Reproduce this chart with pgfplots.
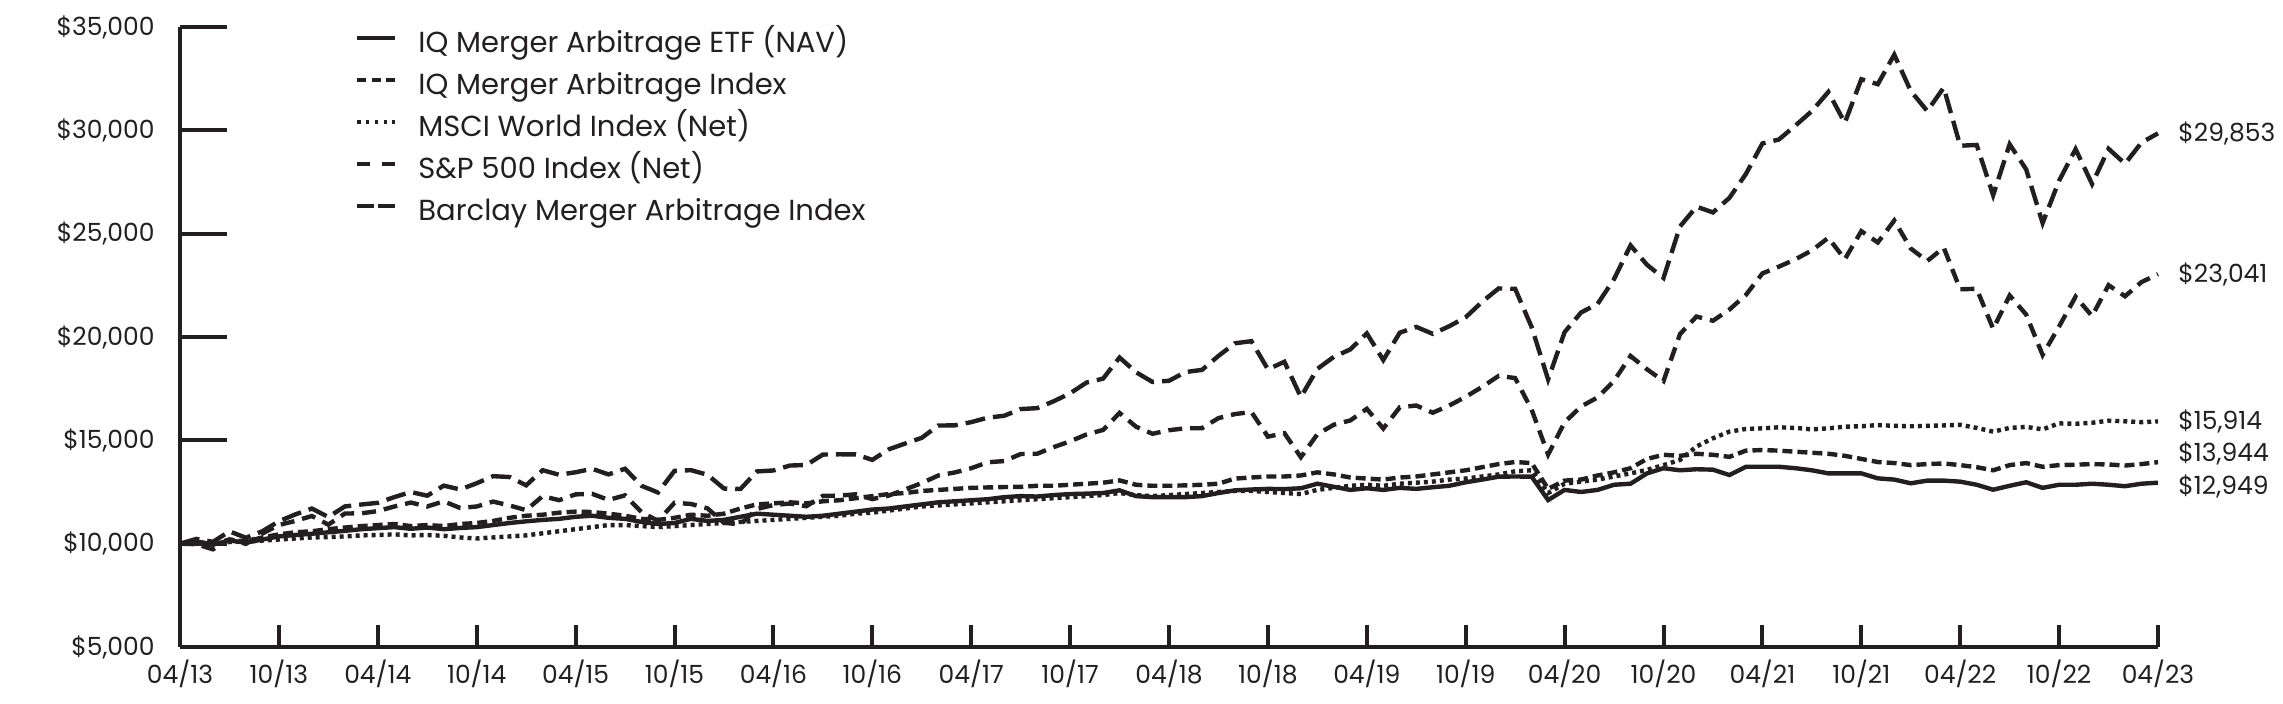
\documentclass[border=0pt]{standalone}
\usepackage{fontspec}
\setmainfont{Poppins}
\usepackage{pgfplots}
\usepackage{pgfplotstable}
\pgfplotsset{compat=1.18}
\definecolor{ink}{RGB}{35,31,32}
\newcommand{\lbl}{\fontsize{12.5}{15}\selectfont}
\newcommand{\lgd}{\fontsize{14.5}{17}\selectfont}

\pgfplotstableread{
m etf iq msci sp bar
0 10000 10000 10000 10000 10000
1 10080 10100 9972 10229 10050
2 9950 9980 9725 10087 10000
3 10150 10200 10203 10596 10080
4 10050 10100 9990 10283 10100
5 10200 10300 10492 10602 10150
6 10350 10450 10903 11083 10200
7 10420 10550 11101 11416 10250
8 10480 10600 11337 11699 10300
9 10550 10700 10919 11290 10320
10 10620 10780 11456 11800 10350
11 10700 10850 11469 11894 10400
12 10750 10900 11574 11975 10420
13 10800 10950 11797 12251 10450
14 10720 10850 11988 12498 10400
15 10780 10900 11798 12321 10420
16 10700 10850 12048 12807 10380
17 10760 10950 11725 12622 10300
18 10800 11000 11798 12924 10250
19 10900 11100 12036 13265 10300
20 11000 11250 11845 13225 10350
21 11080 11350 11623 12823 10400
22 11150 11400 12298 13554 10500
23 11200 11500 12104 13333 10600
24 11300 11550 12384 13454 10700
25 11350 11530 12412 13621 10800
26 11250 11450 12116 13351 10900
27 11200 11350 12336 13625 10900
28 11050 11200 11524 12798 10850
29 10950 11150 11100 12475 10800
30 11000 11250 11979 13522 10850
31 11200 11400 11920 13555 10900
32 11100 11350 11708 13335 10950
33 11150 11450 11008 12667 11000
34 11300 11700 10933 12644 11050
35 11450 11900 11678 13495 11100
36 11400 11950 11868 13541 11150
37 11350 12000 11941 13779 11200
38 11300 11950 11812 13807 11250
39 11350 12050 12310 14310 11300
40 11450 12100 12325 14324 11350
41 11550 12200 12388 14320 11450
42 11650 12300 12155 14052 11500
43 11700 12400 12327 14565 11600
44 11800 12450 12626 14846 11700
45 11900 12550 12932 15121 11800
46 12000 12600 13296 15714 11850
47 12050 12650 13445 15725 11900
48 12100 12700 13649 15880 11950
49 12150 12720 13938 16096 12000
50 12250 12740 13996 16187 12050
51 12300 12750 14335 16513 12100
52 12280 12800 14351 16556 12150
53 12350 12800 14670 16889 12200
54 12400 12850 14952 17274 12250
55 12420 12900 15284 17796 12300
56 12450 12950 15501 17985 12350
57 12580 13060 16325 19006 12450
58 12300 12850 15659 18296 12350
59 12250 12800 15317 17822 12300
60 12250 12800 15489 17881 12350
61 12250 12820 15584 18304 12400
62 12300 12850 15587 18408 12450
63 12450 12900 16074 19083 12500
64 12580 13150 16270 19695 12550
65 12620 13200 16370 19798 12550
66 12650 13250 15177 18435 12500
67 12640 13250 15347 18802 12450
68 12680 13300 14184 17095 12400
69 12900 13450 15293 18456 12600
70 12750 13350 15755 19039 12700
71 12600 13200 15962 19399 12800
72 12680 13150 16524 20175 12850
73 12600 13100 15569 18885 12800
74 12700 13200 16599 20206 12900
75 12650 13250 16685 20487 12950
76 12730 13350 16337 20153 13000
77 12800 13450 16684 20520 13100
78 12970 13550 17104 20955 13150
79 13100 13700 17587 21705 13250
80 13240 13850 18118 22349 13350
81 13250 13950 18013 22330 13500
82 13240 13900 16484 20482 13550
83 12110 12650 14311 17944 12450
84 12600 13050 15873 20234 12900
85 12500 13100 16638 21187 13000
86 12600 13300 17074 21597 13100
87 12850 13450 17880 22804 13250
88 12900 13650 19081 24431 13400
89 13400 14100 18436 23491 13570
90 13650 14300 17868 22855 13800
91 13550 14250 20140 25345 14050
92 13600 14350 20990 26306 14700
93 13580 14300 20784 26027 15100
94 13320 14200 21328 26733 15420
95 13720 14500 22036 27889 15550
96 13720 14530 23076 29364 15580
97 13720 14500 23403 29555 15630
98 13650 14450 23758 30228 15600
99 13550 14400 24190 30932 15530
100 13400 14350 24799 31856 15580
101 13400 14250 23762 30360 15660
102 13400 14100 25121 32472 15680
103 13160 13950 24573 32232 15740
104 13100 13900 25635 33659 15700
105 12920 13800 24281 31903 15680
106 13050 13850 23678 30933 15700
107 13050 13880 24322 32064 15720
108 13000 13800 22307 29254 15750
109 12850 13700 22333 29292 15600
110 12610 13550 20394 26862 15420
111 12800 13800 22009 29324 15600
112 12970 13900 21088 28113 15650
113 12700 13720 19130 25511 15530
114 12850 13800 20512 27564 15820
115 12850 13820 21951 29090 15800
116 12900 13850 21012 27401 15850
117 12850 13830 22508 29107 15950
118 12780 13780 21971 28383 15920
119 12900 13850 22657 29409 15880
120 12949 13944 23041 29853 15914
}\datatable

\begin{document}
\begin{tikzpicture}
\useasboundingbox (-90pt,-28.5pt) rectangle (1051.5pt,323.5pt);
\begin{axis}[
  at={(0,0)}, anchor=south west,
  scale only axis, width=989pt, height=310pt,
  xmin=0, xmax=120, ymin=5000, ymax=35000,
  clip=false,
  axis lines=left,
  axis line style={-, line width=2pt, color=ink},
  scaled y ticks=false, scaled x ticks=false,
  /pgf/number format/assume math mode=true,
  xtick={0,6,...,120},
  xticklabels={04/13,10/13,04/14,10/14,04/15,10/15,04/16,10/16,04/17,10/17,04/18,10/18,04/19,10/19,04/20,10/20,04/21,10/21,04/22,10/22,04/23},
  ytick={5000,10000,15000,20000,25000,30000,35000},
  yticklabels={{\$5,000},{\$10,000},{\$15,000},{\$20,000},{\$25,000},{\$30,000},{\$35,000}},
  tick align=inside,
  xtick style={line width=2pt, color=ink, /pgfplots/major tick length=11pt},
  ytick style={line width=2pt, color=ink, /pgfplots/major tick length=23.5pt},
  xticklabel style={font=\lbl, color=ink, anchor=north, inner sep=0pt, yshift=-6.5pt},
  yticklabel style={font=\lbl, color=ink, anchor=east, inner sep=0pt, xshift=-12.5pt},
  legend style={at={(rel axis cs:0.0885,0.993)}, anchor=north west, draw=none, fill=none,
    inner sep=0pt, row sep=7.5pt, font=\lgd, text=ink,
    nodes={inner sep=0pt, text height=10.5pt, text depth=3pt},
    /tikz/every odd column/.style={column sep=10.5pt}},
  legend cell align=left,
  legend image code/.code={\draw[#1, line width=2pt] (0pt,3.5pt) -- (19pt,3.5pt);},
  every axis plot/.append style={line width=2.2pt, color=ink},
]
\addlegendimage{ink, solid}
\addlegendentry{IQ Merger Arbitrage ETF (NAV)}
\addlegendimage{ink, dash pattern=on 4.5pt off 2.7pt}
\addlegendentry{IQ Merger Arbitrage Index}
\addlegendimage{ink, dash pattern=on 1.6pt off 2.75pt}
\addlegendentry{MSCI World Index (Net)}
\addlegendimage{ink, dash pattern=on 6.5pt off 6pt}
\addlegendentry{S\&P 500 Index (Net)}
\addlegendimage{ink, dash pattern=on 8.5pt off 2pt}
\addlegendentry{Barclay Merger Arbitrage Index}

\addplot[forget plot, dash pattern=on 2pt off 2pt] table[x=m, y=bar] {\datatable};
\addplot[forget plot, dash pattern=on 5pt off 2.5pt] table[x=m, y=iq] {\datatable};
\addplot[forget plot, dash pattern=on 7pt off 4pt] table[x=m, y=msci] {\datatable};
\addplot[forget plot, dash pattern=on 10pt off 4pt] table[x=m, y=sp] {\datatable};
\addplot[forget plot, solid] table[x=m, y=etf] {\datatable};

\node[anchor=west, font=\lbl, text=ink, inner sep=0pt, xshift=10pt] at (axis cs:120,29853) {\$29,853};
\node[anchor=west, font=\lbl, text=ink, inner sep=0pt, xshift=10pt] at (axis cs:120,23041) {\$23,041};
\node[anchor=west, font=\lbl, text=ink, inner sep=0pt, xshift=10pt] at (axis cs:120,15914) {\$15,914};
\node[anchor=west, font=\lbl, text=ink, inner sep=0pt, xshift=10pt, yshift=4.5pt] at (axis cs:120,13944) {\$13,944};
\node[anchor=west, font=\lbl, text=ink, inner sep=0pt, xshift=10pt, yshift=-2pt] at (axis cs:120,12949) {\$12,949};
\end{axis}
\end{tikzpicture}
\end{document}
